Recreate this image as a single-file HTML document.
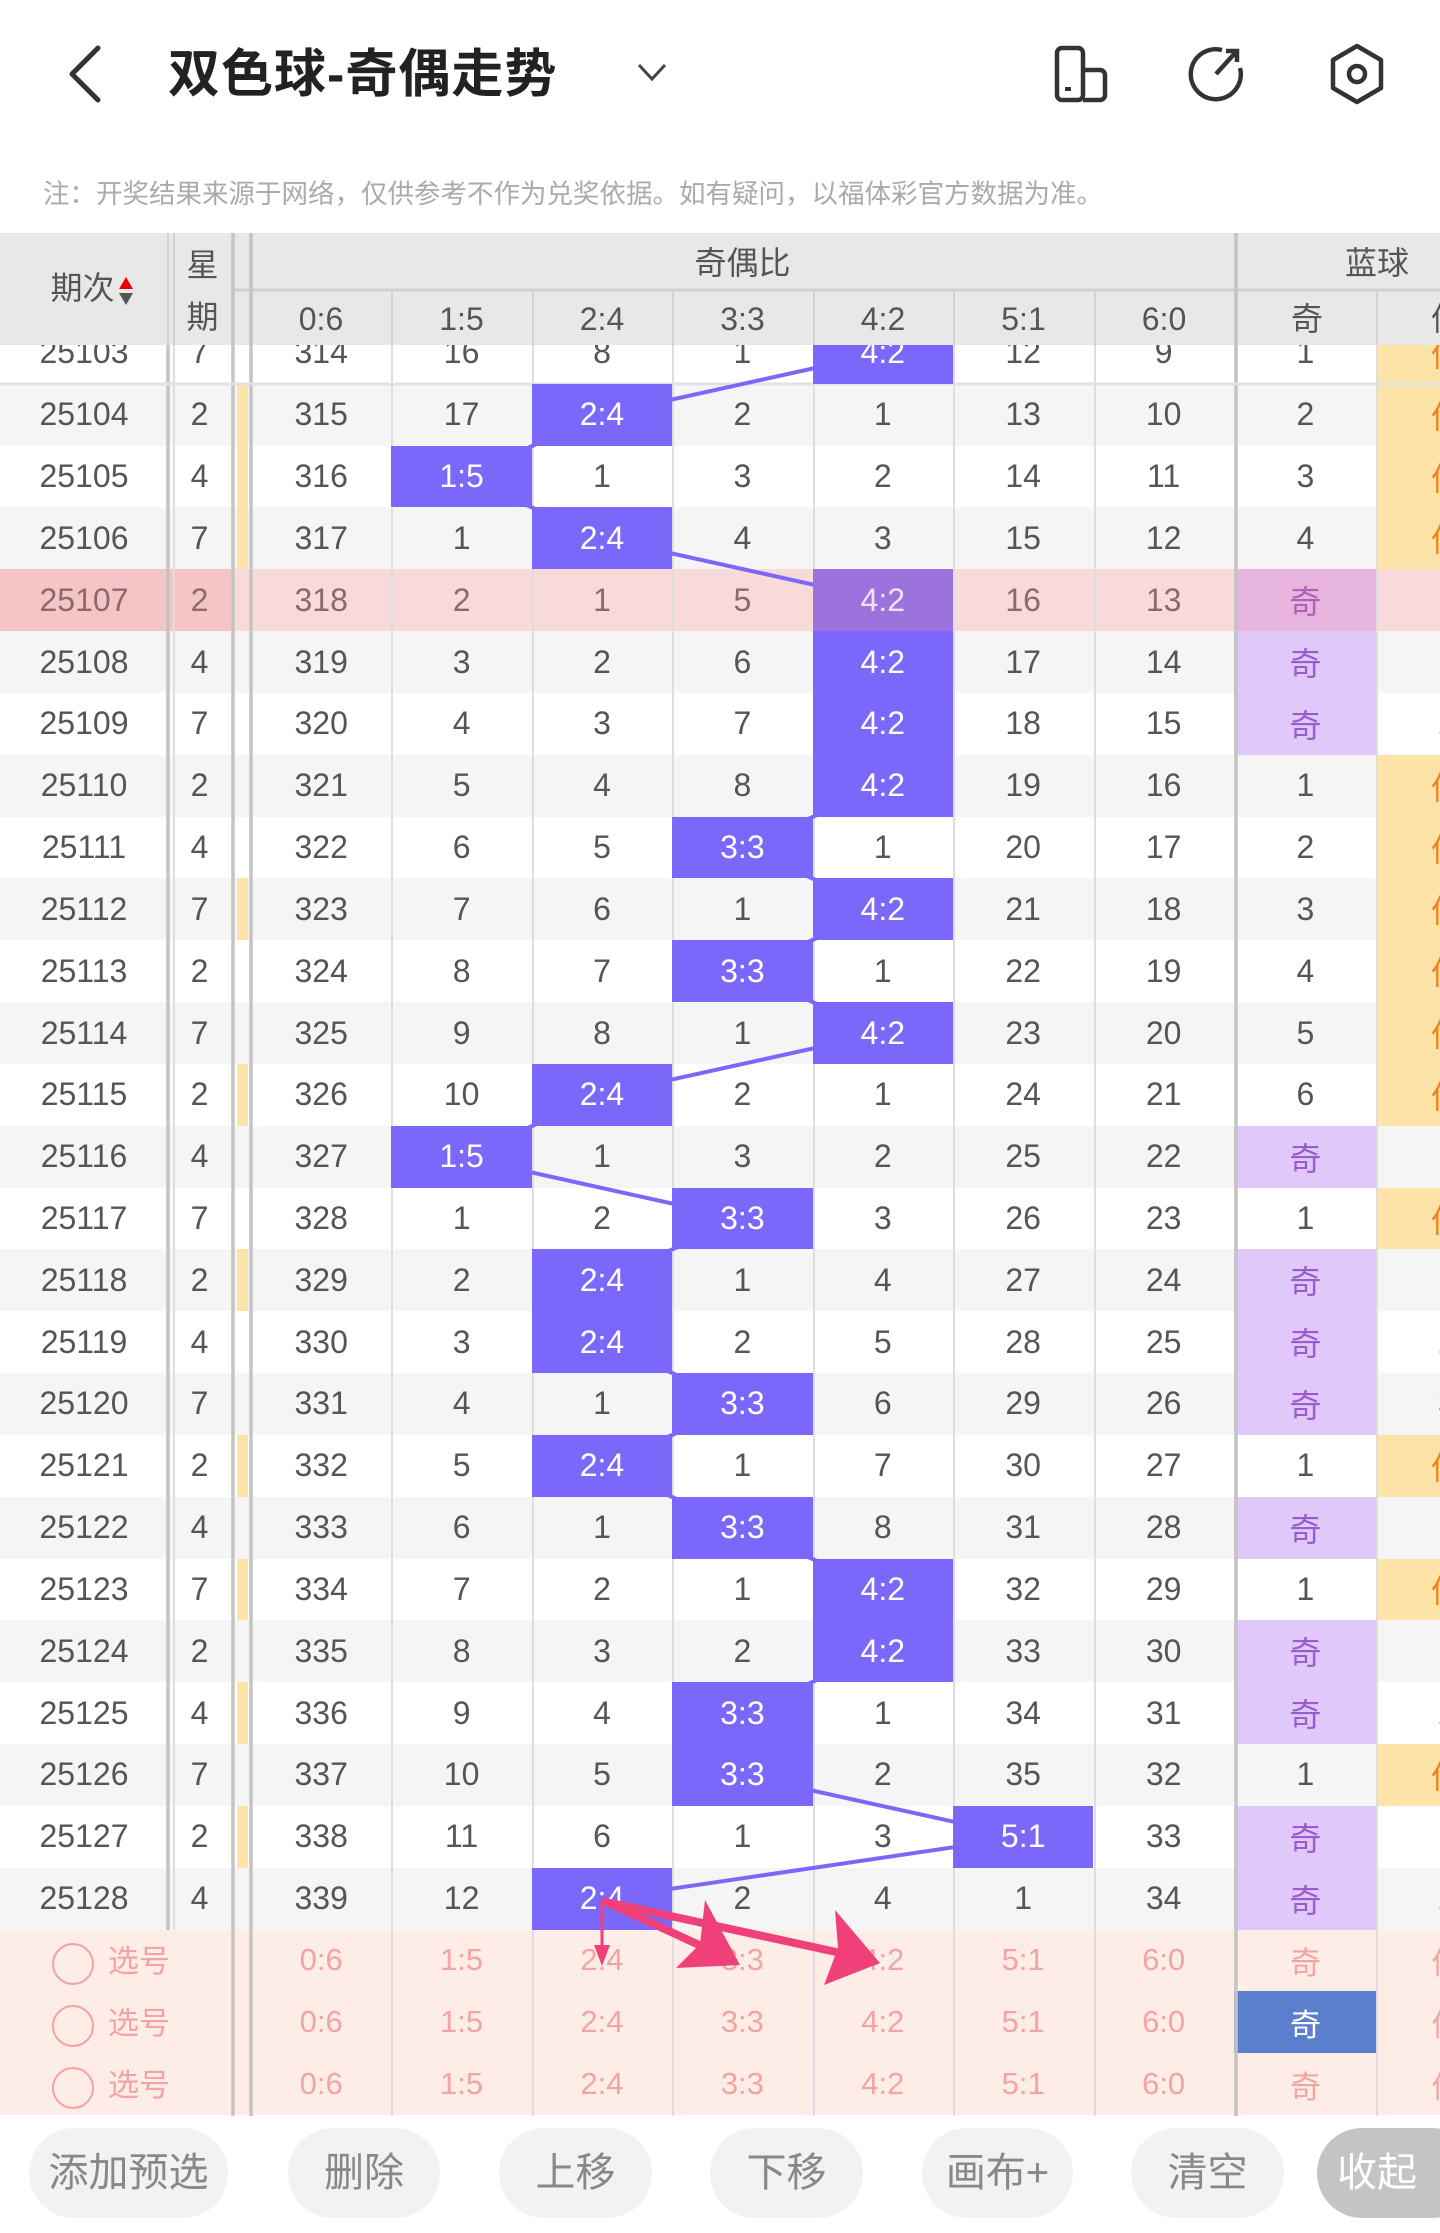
<!DOCTYPE html>
<html><head><meta charset="utf-8"><style>
*{margin:0;padding:0;box-sizing:border-box}
body{width:1440px;height:2233px;overflow:hidden;background:#fff;position:relative;font-family:"Liberation Sans","Noto Sans CJK SC",sans-serif;color:#555}
.abs{position:absolute}
#title{left:168px;top:40px;font-size:52px;font-weight:bold;color:#222;letter-spacing:1px;line-height:70px}
#note{left:43px;top:176px;font-size:26.5px;color:#aaa;line-height:36px;white-space:nowrap}
#tb{position:absolute;left:0;top:322px;border-collapse:collapse;table-layout:fixed;width:1517px}
#tb td{height:61.83px;text-align:center;font-size:32px;padding:0;white-space:nowrap;overflow:visible}
#tb tr{background:#fff}
#tb tr.g{background:#f5f5f5}
#tb tr.p{background:#f9dadb;color:#8a6a6a}
#tb tr.p td.l{background:#f4c4c6}
#tb td.h{background:#7b68fa;color:#fff;position:relative;z-index:2}
#tb tr.p td.h{background:#9c73dc;color:#f4e0f4}
#tb td.q{background:#e0c8fa;color:#9a5ccc}
#tb tr.p td.q{background:#e6b4dc;color:#b060b8}
#tb td.o{background:#fde3a7;color:#f08020}
#tb td.s i{display:block;margin-left:6px;width:11px;height:61.83px}
#tb td.y i{background:#fde3a7}
#tb tr.x{background:#fdede6;color:#f2a3a3}
#tb tr.x td{font-size:31px}
#tb td.bq{background:#5b7fcc;color:#fff}
.c{display:inline-block;width:42px;height:42px;border:2.5px solid #f2a3a3;border-radius:50%;vertical-align:middle;margin-right:14px}
#hd{left:0;top:233px;width:1440px;height:112px;background:#e8e8e8;z-index:5;font-size:32px;color:#555}
#hd div{position:absolute;text-align:center}
#ov{position:absolute;left:0;top:0;z-index:1}
#ov2{position:absolute;left:0;top:0;z-index:6;pointer-events:none}
.b{position:absolute;top:2128px;height:90px;border-radius:45px;background:#f2f2f4;color:#888;font-size:40px;line-height:90px;text-align:center}
</style></head><body>

<svg class="abs" style="left:60px;top:44px" width="50" height="60" viewBox="0 0 50 60"><polyline points="38,4 12,30 38,56" fill="none" stroke="#333" stroke-width="5" stroke-linecap="round" stroke-linejoin="round"/></svg>
<div id="title" class="abs">双色球-奇偶走势</div>
<svg class="abs" style="left:636px;top:62px" width="32" height="22" viewBox="0 0 32 22"><polyline points="3,3 16,17 29,3" fill="none" stroke="#444" stroke-width="3"/></svg>
<svg class="abs" style="left:1052px;top:44px" width="60" height="60" viewBox="0 0 60 60"><rect x="5" y="4" width="26" height="52" rx="5" fill="none" stroke="#333" stroke-width="4.5"/><path d="M31 26 H48 a5 5 0 0 1 5 5 V51 a5 5 0 0 1 -5 5 H31" fill="none" stroke="#333" stroke-width="4.5"/><line x1="13" y1="45" x2="19" y2="45" stroke="#333" stroke-width="4"/></svg>
<svg class="abs" style="left:1186px;top:44px" width="60" height="60" viewBox="0 0 60 60"><path d="M36 6 A25 25 0 1 0 54 24" fill="none" stroke="#333" stroke-width="4.5"/><line x1="30" y1="30" x2="50" y2="8" stroke="#333" stroke-width="4.5"/><polyline points="40,7 51,7 51,18" fill="none" stroke="#333" stroke-width="4.5"/></svg>
<svg class="abs" style="left:1326px;top:42px" width="62" height="64" viewBox="0 0 62 64"><polygon points="31,4 55,18 55,46 31,60 7,46 7,18" fill="none" stroke="#333" stroke-width="4.5" stroke-linejoin="round"/><circle cx="31" cy="32" r="8" fill="none" stroke="#333" stroke-width="4.5"/></svg>
<div id="note" class="abs">注：开奖结果来源于网络，仅供参考不作为兑奖依据。如有疑问，以福体彩官方数据为准。</div>

<div id="hd" class="abs">
<div style="left:8px;top:30px;width:168px;line-height:50px">期次<span style="display:inline-block;vertical-align:middle;margin-left:3px;line-height:0"><svg width="16" height="30" viewBox="0 0 16 30"><polygon points="8,1 15,13 1,13" fill="#e00"/><polygon points="8,29 15,17 1,17" fill="#555"/></svg></span></div>
<div style="left:174px;top:6px;width:57px;line-height:52px">星<br>期</div>
<div style="left:251px;top:4px;width:983px;line-height:52px">奇偶比</div>
<div style="left:1237px;top:4px;width:280px;line-height:52px">蓝球</div>
<div style="left:251px;top:60px;width:140px;line-height:52px">0:6</div>
<div style="left:391px;top:60px;width:141px;line-height:52px">1:5</div>
<div style="left:532px;top:60px;width:140px;line-height:52px">2:4</div>
<div style="left:672px;top:60px;width:141px;line-height:52px">3:3</div>
<div style="left:813px;top:60px;width:140px;line-height:52px">4:2</div>
<div style="left:953px;top:60px;width:141px;line-height:52px">5:1</div>
<div style="left:1094px;top:60px;width:140px;line-height:52px">6:0</div>
<div style="left:1237px;top:60px;width:140px;line-height:52px">奇</div>
<div style="left:1377px;top:60px;width:140px;line-height:52px">偶</div>
<svg style="position:absolute;left:0;top:0" width="1440" height="112"><line x1="233" y1="57" x2="1440" y2="57" stroke="#d0d0d0" stroke-width="3"/><g stroke="#d2d2d2" stroke-width="2"><line x1="168" y1="0" x2="168" y2="112"/><line x1="174" y1="0" x2="174" y2="112"/><line x1="392" y1="57" x2="392" y2="112"/><line x1="533" y1="57" x2="533" y2="112"/><line x1="673" y1="57" x2="673" y2="112"/><line x1="814" y1="57" x2="814" y2="112"/><line x1="954" y1="57" x2="954" y2="112"/><line x1="1095" y1="57" x2="1095" y2="112"/><line x1="1377" y1="57" x2="1377" y2="112"/></g><g stroke="#c4c4c4" stroke-width="3.5"><line x1="233" y1="0" x2="233" y2="112"/><line x1="251" y1="0" x2="251" y2="112"/><line x1="1236" y1="0" x2="1236" y2="112"/></g></svg>
</div>

<svg id="ov" width="1440" height="2120">
<g stroke="#dedede" stroke-width="2"><line x1="168" y1="322" x2="168" y2="1930"/><line x1="174" y1="322" x2="174" y2="1930"/><line x1="392" y1="322" x2="392" y2="2116"/><line x1="533" y1="322" x2="533" y2="2116"/><line x1="673" y1="322" x2="673" y2="2116"/><line x1="814" y1="322" x2="814" y2="2116"/><line x1="954" y1="322" x2="954" y2="2116"/><line x1="1095" y1="322" x2="1095" y2="2116"/><line x1="1377" y1="322" x2="1377" y2="2116"/></g>
<g stroke="#c4c4c4" stroke-width="3.5"><line x1="168" y1="322" x2="168" y2="1930"/><line x1="233" y1="322" x2="233" y2="2116"/><line x1="251" y1="322" x2="251" y2="2116"/><line x1="1236" y1="322" x2="1236" y2="2116"/></g>
<line x1="0" y1="384" x2="1440" y2="384" stroke="#e2e2e2" stroke-width="3"/>
<polyline fill="none" stroke="#7b68fa" stroke-width="4" points="883,353 602,415 462,477 602,538 883,600 883,662 883,724 883,786 742,848 883,909 742,971 883,1033 602,1095 462,1157 742,1219 602,1280 602,1342 742,1404 602,1466 742,1528 883,1590 883,1651 742,1713 742,1775 1023,1837 602,1899"/>
</svg>

<table id="tb">
<colgroup><col style="width:168px"><col style="width:63px"><col style="width:20px"><col style="width:140.4px"><col style="width:140.4px"><col style="width:140.4px"><col style="width:140.4px"><col style="width:140.4px"><col style="width:140.4px"><col style="width:140.6px"><col style="width:143px"><col style="width:140px"></colgroup>
<tr><td>25103</td><td>7</td><td class="s"><i></i></td><td>314</td><td>16</td><td>8</td><td>1</td><td class="h">4:2</td><td>12</td><td>9</td><td>1</td><td class="o">偶</td></tr>
<tr class="g"><td>25104</td><td>2</td><td class="s y"><i></i></td><td>315</td><td>17</td><td class="h">2:4</td><td>2</td><td>1</td><td>13</td><td>10</td><td>2</td><td class="o">偶</td></tr>
<tr><td>25105</td><td>4</td><td class="s y"><i></i></td><td>316</td><td class="h">1:5</td><td>1</td><td>3</td><td>2</td><td>14</td><td>11</td><td>3</td><td class="o">偶</td></tr>
<tr class="g"><td>25106</td><td>7</td><td class="s y"><i></i></td><td>317</td><td>1</td><td class="h">2:4</td><td>4</td><td>3</td><td>15</td><td>12</td><td>4</td><td class="o">偶</td></tr>
<tr class="p"><td class="l">25107</td><td class="l">2</td><td class="s"><i></i></td><td>318</td><td>2</td><td>1</td><td>5</td><td class="h">4:2</td><td>16</td><td>13</td><td class="q">奇</td><td></td></tr>
<tr class="g"><td>25108</td><td>4</td><td class="s"><i></i></td><td>319</td><td>3</td><td>2</td><td>6</td><td class="h">4:2</td><td>17</td><td>14</td><td class="q">奇</td><td>1</td></tr>
<tr><td>25109</td><td>7</td><td class="s"><i></i></td><td>320</td><td>4</td><td>3</td><td>7</td><td class="h">4:2</td><td>18</td><td>15</td><td class="q">奇</td><td>2</td></tr>
<tr class="g"><td>25110</td><td>2</td><td class="s"><i></i></td><td>321</td><td>5</td><td>4</td><td>8</td><td class="h">4:2</td><td>19</td><td>16</td><td>1</td><td class="o">偶</td></tr>
<tr><td>25111</td><td>4</td><td class="s"><i></i></td><td>322</td><td>6</td><td>5</td><td class="h">3:3</td><td>1</td><td>20</td><td>17</td><td>2</td><td class="o">偶</td></tr>
<tr class="g"><td>25112</td><td>7</td><td class="s y"><i></i></td><td>323</td><td>7</td><td>6</td><td>1</td><td class="h">4:2</td><td>21</td><td>18</td><td>3</td><td class="o">偶</td></tr>
<tr><td>25113</td><td>2</td><td class="s"><i></i></td><td>324</td><td>8</td><td>7</td><td class="h">3:3</td><td>1</td><td>22</td><td>19</td><td>4</td><td class="o">偶</td></tr>
<tr class="g"><td>25114</td><td>7</td><td class="s"><i></i></td><td>325</td><td>9</td><td>8</td><td>1</td><td class="h">4:2</td><td>23</td><td>20</td><td>5</td><td class="o">偶</td></tr>
<tr><td>25115</td><td>2</td><td class="s y"><i></i></td><td>326</td><td>10</td><td class="h">2:4</td><td>2</td><td>1</td><td>24</td><td>21</td><td>6</td><td class="o">偶</td></tr>
<tr class="g"><td>25116</td><td>4</td><td class="s"><i></i></td><td>327</td><td class="h">1:5</td><td>1</td><td>3</td><td>2</td><td>25</td><td>22</td><td class="q">奇</td><td></td></tr>
<tr><td>25117</td><td>7</td><td class="s"><i></i></td><td>328</td><td>1</td><td>2</td><td class="h">3:3</td><td>3</td><td>26</td><td>23</td><td>1</td><td class="o">偶</td></tr>
<tr class="g"><td>25118</td><td>2</td><td class="s y"><i></i></td><td>329</td><td>2</td><td class="h">2:4</td><td>1</td><td>4</td><td>27</td><td>24</td><td class="q">奇</td><td></td></tr>
<tr><td>25119</td><td>4</td><td class="s"><i></i></td><td>330</td><td>3</td><td class="h">2:4</td><td>2</td><td>5</td><td>28</td><td>25</td><td class="q">奇</td><td>2</td></tr>
<tr class="g"><td>25120</td><td>7</td><td class="s"><i></i></td><td>331</td><td>4</td><td>1</td><td class="h">3:3</td><td>6</td><td>29</td><td>26</td><td class="q">奇</td><td>3</td></tr>
<tr><td>25121</td><td>2</td><td class="s y"><i></i></td><td>332</td><td>5</td><td class="h">2:4</td><td>1</td><td>7</td><td>30</td><td>27</td><td>1</td><td class="o">偶</td></tr>
<tr class="g"><td>25122</td><td>4</td><td class="s"><i></i></td><td>333</td><td>6</td><td>1</td><td class="h">3:3</td><td>8</td><td>31</td><td>28</td><td class="q">奇</td><td></td></tr>
<tr><td>25123</td><td>7</td><td class="s y"><i></i></td><td>334</td><td>7</td><td>2</td><td>1</td><td class="h">4:2</td><td>32</td><td>29</td><td>1</td><td class="o">偶</td></tr>
<tr class="g"><td>25124</td><td>2</td><td class="s"><i></i></td><td>335</td><td>8</td><td>3</td><td>2</td><td class="h">4:2</td><td>33</td><td>30</td><td class="q">奇</td><td></td></tr>
<tr><td>25125</td><td>4</td><td class="s y"><i></i></td><td>336</td><td>9</td><td>4</td><td class="h">3:3</td><td>1</td><td>34</td><td>31</td><td class="q">奇</td><td>2</td></tr>
<tr class="g"><td>25126</td><td>7</td><td class="s"><i></i></td><td>337</td><td>10</td><td>5</td><td class="h">3:3</td><td>2</td><td>35</td><td>32</td><td>1</td><td class="o">偶</td></tr>
<tr><td>25127</td><td>2</td><td class="s y"><i></i></td><td>338</td><td>11</td><td>6</td><td>1</td><td>3</td><td class="h">5:1</td><td>33</td><td class="q">奇</td><td></td></tr>
<tr class="g"><td>25128</td><td>4</td><td class="s"><i></i></td><td>339</td><td>12</td><td class="h">2:4</td><td>2</td><td>4</td><td>1</td><td>34</td><td class="q">奇</td><td>2</td></tr>
<tr class="x"><td colspan="2" style="text-align:left;padding-left:52px"><span class="c"></span>选号</td><td></td><td>0:6</td><td>1:5</td><td>2:4</td><td>3:3</td><td>4:2</td><td>5:1</td><td>6:0</td><td>奇</td><td>偶</td></tr>
<tr class="x"><td colspan="2" style="text-align:left;padding-left:52px"><span class="c"></span>选号</td><td></td><td>0:6</td><td>1:5</td><td>2:4</td><td>3:3</td><td>4:2</td><td>5:1</td><td>6:0</td><td class="bq">奇</td><td>偶</td></tr>
<tr class="x"><td colspan="2" style="text-align:left;padding-left:52px"><span class="c"></span>选号</td><td></td><td>0:6</td><td>1:5</td><td>2:4</td><td>3:3</td><td>4:2</td><td>5:1</td><td>6:0</td><td>奇</td><td>偶</td></tr>
</table>

<svg id="ov2" width="1440" height="2233">
<g fill="none" stroke="#f0407a" stroke-linecap="round">
<line x1="606" y1="1902" x2="710" y2="1950" stroke-width="8"/>
<line x1="606" y1="1902" x2="850" y2="1955" stroke-width="8"/>
<line x1="602" y1="1900" x2="602" y2="1950" stroke-width="3"/>
</g>
<g fill="#f0407a">
<polygon points="740,1965 676,1968 700,1944 705,1900"/>
<polygon points="880,1963 824,1985 838,1948 835,1910"/>
<polygon points="602,1966 594,1945 610,1945"/>
</g>
</svg>

<div class="b" style="left:29px;width:199px">添加预选</div>
<div class="b" style="left:288px;width:152px">删除</div>
<div class="b" style="left:499px;width:153px">上移</div>
<div class="b" style="left:710px;width:153px">下移</div>
<div class="b" style="left:922px;width:151px">画布+</div>
<div class="b" style="left:1131px;width:153px">清空</div>
<div class="b" style="left:1317px;width:160px;background:#c4c4c4;color:#fff;text-align:left;padding-left:20px">收起</div>
</body></html>
